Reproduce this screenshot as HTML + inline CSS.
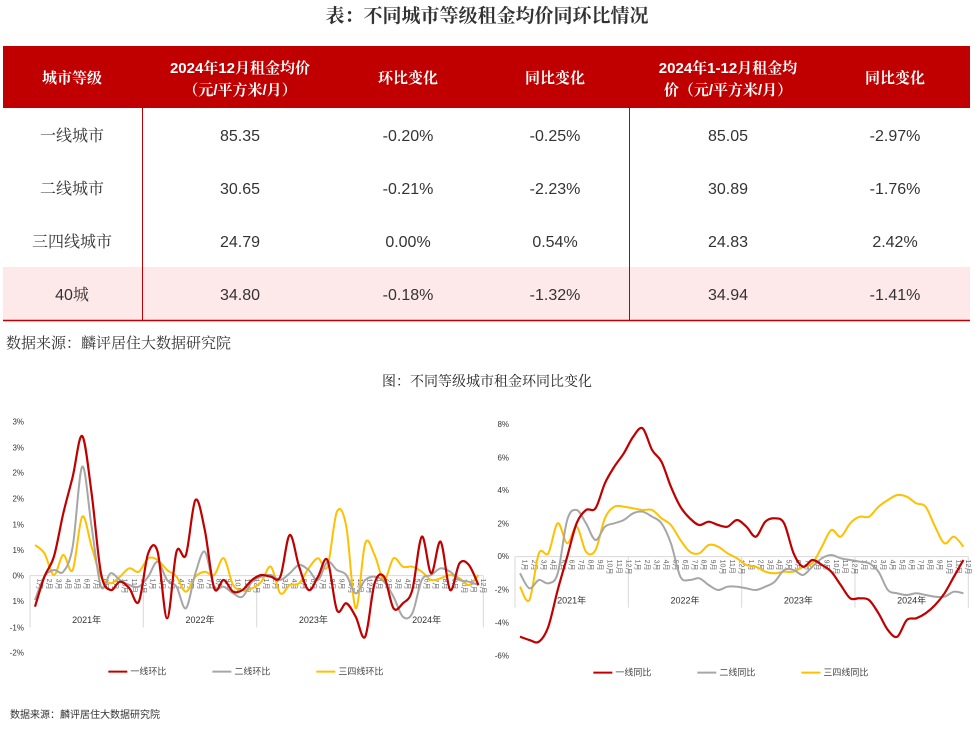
<!DOCTYPE html>
<html><head><meta charset="utf-8">
<style>
body{margin:0;background:#fff;width:974px;height:729px;overflow:hidden;font-family:"Liberation Sans","Noto Sans CJK SC",sans-serif;}
svg{display:block}
</style></head><body>
<svg id="s" width="974" height="729" xmlns="http://www.w3.org/2000/svg" font-family="Liberation Sans, Noto Sans CJK SC, sans-serif">
<text x="487" y="22" text-anchor="middle" font-size="19" font-weight="bold" fill="#333" font-family="Noto Serif CJK SC, serif">表：不同城市等级租金均价同环比情况</text>
<rect x="3" y="46" width="967" height="62" fill="#c00000"/>
<g fill="#fff" font-size="15" font-weight="bold" text-anchor="middle" font-family="Liberation Sans, Noto Serif CJK SC, serif">
<text x="72" y="83">城市等级</text>
<text x="240" y="73">2024年12月租金均价</text>
<text x="240" y="95">（元/平方米/月）</text>
<text x="408" y="83">环比变化</text>
<text x="555" y="83">同比变化</text>
<text x="728" y="73">2024年1-12月租金均</text>
<text x="728" y="95">价（元/平方米/月）</text>
<text x="895" y="83">同比变化</text>
</g>
<rect x="3" y="267" width="967" height="53" fill="#fde9e9"/>
<line x1="3" y1="320.5" x2="970" y2="320.5" stroke="#c00000" stroke-width="1.5"/>
<line x1="142.5" y1="108" x2="142.5" y2="320" stroke="#c00000"/>
<line x1="629.5" y1="108" x2="629.5" y2="320" stroke="#c00000"/>
<g fill="#333" font-size="16" text-anchor="middle" font-family="Liberation Sans, Noto Serif CJK SC, serif">
<text x="72" y="141">一线城市</text><text x="240" y="141">85.35</text><text x="408" y="141">-0.20%</text><text x="555" y="141">-0.25%</text><text x="728" y="141">85.05</text><text x="895" y="141">-2.97%</text>
<text x="72" y="194">二线城市</text><text x="240" y="194">30.65</text><text x="408" y="194">-0.21%</text><text x="555" y="194">-2.23%</text><text x="728" y="194">30.89</text><text x="895" y="194">-1.76%</text>
<text x="72" y="247">三四线城市</text><text x="240" y="247">24.79</text><text x="408" y="247">0.00%</text><text x="555" y="247">0.54%</text><text x="728" y="247">24.83</text><text x="895" y="247">2.42%</text>
<text x="72" y="300">40城</text><text x="240" y="300">34.80</text><text x="408" y="300">-0.18%</text><text x="555" y="300">-1.32%</text><text x="728" y="300">34.94</text><text x="895" y="300">-1.41%</text>
</g>
<text x="6" y="348" font-size="15" fill="#333" font-family="Noto Serif CJK SC, serif">数据来源：麟评居住大数据研究院</text>
<text x="487" y="386" text-anchor="middle" font-size="14" fill="#222" font-family="Noto Serif CJK SC, serif">图：不同等级城市租金环同比变化</text>
<text x="10" y="718" font-size="10" fill="#333">数据来源：麟评居住大数据研究院</text>
<g id="g"></g>
</svg>
<script>
var NS="http://www.w3.org/2000/svg",G=document.getElementById('g');
function el(t,a,txt){var e=document.createElementNS(NS,t);for(var k in a)e.setAttribute(k,a[k]);if(txt!=null)e.textContent=txt;G.appendChild(e);return e;}
function path(pts){var d="M"+pts[0][0]+","+pts[0][1];for(var i=0;i<pts.length-1;i++){var p0=pts[i-1]||pts[i],p1=pts[i],p2=pts[i+1],p3=pts[i+2]||p2;
d+=" C"+(p1[0]+(p2[0]-p0[0])/6)+","+(p1[1]+(p2[1]-p0[1])/6)+" "+(p2[0]-(p3[0]-p1[0])/6)+","+(p2[1]-(p3[1]-p1[1])/6)+" "+p2[0]+","+p2[1];}return d;}
function chart(ox,zeroZ,labels,labZ,yearZ,series,legend){
 function X(z){return ox+z/3} function Y(z){return 400+z/3}
 labels.forEach(function(l,i){el('text',{x:X(72),y:Y(labZ[i])+3,'font-size':8,'text-anchor':'end',fill:'#333'},l)});
 el('line',{x1:X(90),y1:Y(zeroZ),x2:X(1450),y2:Y(zeroZ),stroke:'#d9d9d9','stroke-width':1});
 [90,430,770,1110,1450].forEach(function(z){el('line',{x1:X(z),y1:Y(zeroZ),x2:X(z),y2:Y(yearZ+25),stroke:'#d9d9d9','stroke-width':1})});
 ['2021年','2022年','2023年','2024年'].forEach(function(t,i){el('text',{x:X(260+i*340),y:Y(yearZ)+4,'font-size':9,'text-anchor':'middle',fill:'#333'},t)});
 for(var i=0;i<48;i++){var x=X(105+i*28.3);el('text',{x:0,y:0,'font-size':7,fill:'#666',transform:'translate('+(x+2.5)+','+(Y(zeroZ)+3)+') rotate(90)'},((i%12)+1)+'月')}
 series.forEach(function(s){var pts=s.d.map(function(v,i){return [X(105+i*28.3).toFixed(1),Y(v).toFixed(1)].map(Number)});
  el('path',{d:path(pts),fill:'none',stroke:s.c,'stroke-width':s.w||2});});
 legend.forEach(function(l,i){var x=X(325+i*312),y=Y(legZ);el('line',{x1:x,y1:y,x2:x+19,y2:y,stroke:l[1],'stroke-width':2});el('text',{x:x+22,y:y+3,'font-size':9,fill:'#444'},l[0])});
}
var legZ=815;
var R=[620,530,470,340,230,108,280,520,570,545,565,605,460,455,655,455,465,300,390,565,540,575,570,540,525,530,530,405,500,570,530,480,630,610,650,710,550,530,625,610,570,410,520,425,570,490,495,555];
var Gr=[600,530,510,515,440,200,380,560,520,540,555,560,530,485,540,560,625,520,455,560,560,580,590,545,530,525,540,520,495,510,540,485,510,525,580,540,530,545,590,650,640,540,525,505,515,540,545,555];
var Yl=[435,460,525,465,510,350,440,530,550,530,505,515,475,480,510,530,575,530,515,525,475,555,570,565,545,500,580,555,550,505,475,500,335,380,625,430,465,540,475,500,500,515,540,535,525,535,555,525];
chart(0,527,['3%','3%','2%','2%','1%','1%','0%','1%','-1%','-2%'],[65,142,218,295,373,450,527,603,682,758],657,
 [{d:Yl,c:'#ffc000'},{d:Gr,c:'#a6a6a6'},{d:R,c:'#c00000',w:2.2}],[['一线环比','#c00000'],['二线环比','#a6a6a6'],['三四线环比','#ffc000']]);
legZ=818;
var R2=[710,720,725,680,570,470,370,330,325,250,200,160,110,85,150,185,260,320,355,375,365,375,380,360,380,410,365,355,370,460,500,480,495,515,555,595,595,600,640,690,710,660,655,640,615,580,530,480];
var G2=[520,565,540,550,520,360,330,370,420,380,370,360,340,335,350,370,430,530,540,535,555,570,560,560,565,570,560,545,510,510,525,500,475,465,475,480,485,490,515,570,580,585,580,585,590,590,575,580];
var Y2=[560,600,460,460,370,430,380,455,450,355,320,320,325,330,330,355,375,420,455,460,435,440,460,475,495,500,515,520,515,515,500,490,440,390,410,370,350,350,320,300,285,290,310,320,380,430,410,440];
chart(485,470,['8%','6%','4%','2%','0%','-2%','-4%','-6%'],[72,172,270,370,468,568,667,767],598,
 [{d:Y2,c:'#ffc000'},{d:G2,c:'#a6a6a6'},{d:R2,c:'#c00000',w:2.2}],[['一线同比','#c00000'],['二线同比','#a6a6a6'],['三四线同比','#ffc000']]);
</script>
</body></html>
